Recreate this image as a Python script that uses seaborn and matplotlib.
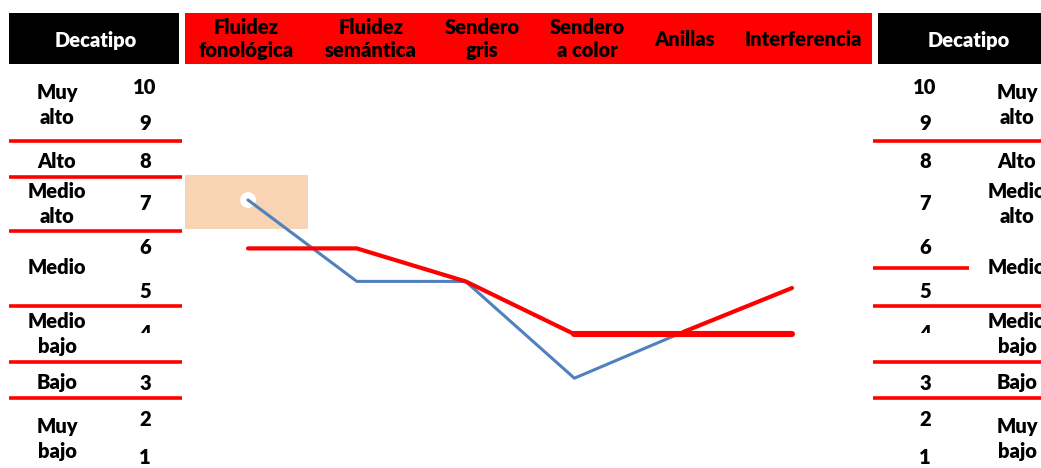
import numpy as np
import matplotlib.pyplot as plt
import seaborn as sns
from matplotlib.patches import Rectangle
from matplotlib.lines import Line2D
from matplotlib.transforms import Bbox, TransformedBbox

sns.set_style("white")
plt.rcParams['font.family'] = ['Lato', 'DejaVu Sans']

# datos
pruebas = ["Fluidez\nfonológica", "Fluidez\nsemántica", "Sendero\ngris",
           "Sendero\na color", "Anillas", "Interferencia"]
perfil = [7.0, 5.15, 5.15, 2.95, 4.0, 5.0]
referencia = [5.9, 5.9, 5.15, 3.95, 3.95, 3.95]
decatipos = ["10", "9", "8", "7", "6", "5", "4", "3", "2", "1"]
niveles = ["Muy\nalto", "Alto", "Medio\nalto", "Medio", "Medio\nbajo", "Bajo", "Muy\nbajo"]

W, H = 1041, 468
fig = plt.figure(figsize=(W / 100, H / 100), dpi=100)
ax = fig.add_axes([0, 0, 1, 1])

# escala del grafico en pixeles
x0, dx = 248, 108.8
y7, dy = 200, 44.0
ax.set_xlim(-x0 / dx, (W - x0) / dx)
ax.set_ylim(7 - (H - y7) / dy, 7 + y7 / dy)
ax.axis('off')


def fx(px):
    return px / W


def fy(py):
    return 1 - py / H


def caja(xa, ya, xb, yb, color, z=-1):
    fig.add_artist(Rectangle((fx(xa), fy(yb)), (xb - xa) / W, (yb - ya) / H,
                             transform=fig.transFigure, color=color, lw=0, zorder=z))


def linea(xa, xb, y, lw=2.6):
    fig.add_artist(Line2D([fx(xa), fx(xb)], [fy(y), fy(y)], transform=fig.transFigure,
                          color='#FF0000', lw=lw, solid_capstyle='butt'))


def texto(x, y, s, color='black', clip=None, ls=1.3, size=14.5):
    t = fig.text(fx(x), fy(y), s, ha='center', va='center', fontsize=size,
                 fontweight='heavy', color=color, linespacing=ls)
    if clip is not None:
        t.set_clip_box(TransformedBbox(Bbox.from_extents(0, fy(clip), 1, 1), fig.transFigure))
        t.set_clip_on(True)
    return t


# cabeceras
caja(9, 13, 179, 64, 'black', z=1)
caja(185, 13, 872, 64, '#FF0000', z=1)
caja(878, 13, 1041, 64, 'black', z=1)
texto(96, 40, "Decatipo", color='white')
texto(969, 40, "Decatipo", color='white')
cab_x = [246, 371, 482, 587, 685, 803]
for px, nombre in zip(cab_x, pruebas):
    texto(px, 39, nombre, ls=1.28, size=14.5)

# zona resaltada
caja(185, 175, 308, 229, '#F8D3B4', z=-1)

# tablas de decatipos
num_y = [87, 123, 161, 204, 247, 291, 334, 383, 420, 457]
niv_y = [105, 161, 204, 267, 334, 383, 439]
for py, d in zip(num_y, decatipos):
    clip = 333 if d == "4" else None
    texto(145, py, d, clip=clip)
    texto(925, py, d, clip=clip)
for py, n in zip(niv_y, niveles):
    texto(57, py, n, ls=1.4)
    texto(1017, py, n, ls=1.4)

for py in [141, 177, 231, 306, 362, 398]:
    linea(9, 182, py)
for py in [141, 306, 362, 398]:
    linea(873, 1041, py)
linea(873, 969, 268)

# lineas del perfil
idx = np.arange(len(pruebas))
sns.scatterplot(x=idx[:1], y=perfil[:1], s=130, color='white', edgecolor='none',
                zorder=2, ax=ax)
sns.lineplot(x=idx[:5], y=perfil[:5], color='#4F81BD', lw=2.2, zorder=3, ax=ax)
sns.lineplot(x=idx[:4], y=referencia[:4], color='#FF0000', lw=3.0, zorder=4, ax=ax)
sns.lineplot(x=idx[3:], y=referencia[3:], color='#FF0000', lw=4.4, zorder=4, ax=ax)
sns.lineplot(x=idx[4:], y=perfil[4:], color='#FF0000', lw=3.0, zorder=4, ax=ax)

fig.savefig("out.png", dpi=100)
